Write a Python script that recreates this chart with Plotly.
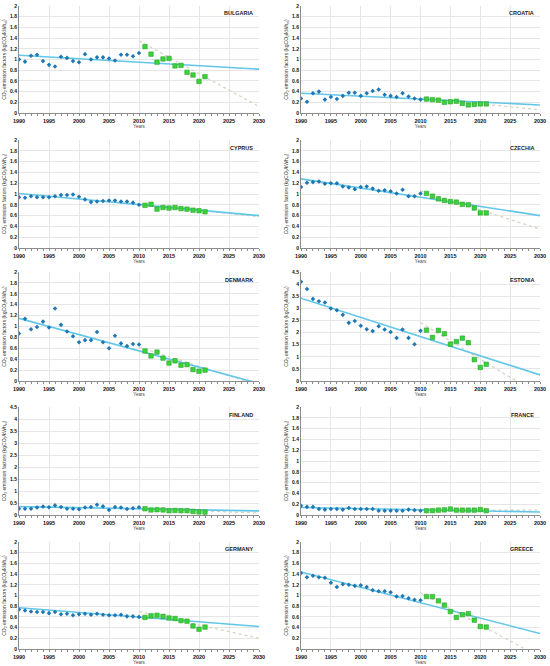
import plotly.graph_objects as go

# years
years_hist = list(range(1990, 2011))
years_new = list(range(2011, 2022))
trend_years = [1990, 2030]
gray_years = [2010, 2030]

countries = ["BULGARIA", "CROATIA", "CYPRUS", "CZECHIA", "DENMARK",
             "ESTONIA", "FINLAND", "FRANCE", "GERMANY", "GREECE"]

# emission factors 1990-2010 (blue)
bulgaria_hist = [1.00, 0.96, 1.07, 1.09, 0.97, 0.90, 0.87, 1.05, 1.03, 0.97, 0.95,
                 1.10, 1.00, 1.04, 1.04, 1.02, 0.98, 1.09, 1.09, 1.06, 1.12]
croatia_hist = [0.27, 0.21, 0.37, 0.40, 0.25, 0.30, 0.26, 0.32, 0.38, 0.38, 0.32,
                0.37, 0.41, 0.44, 0.34, 0.32, 0.30, 0.37, 0.31, 0.27, 0.25]
cyprus_hist = [0.94, 0.93, 0.96, 0.94, 0.94, 0.94, 0.96, 0.98, 0.98, 0.99, 0.95,
               0.90, 0.85, 0.86, 0.87, 0.88, 0.88, 0.86, 0.86, 0.84, 0.80]
czechia_hist = [1.13, 1.21, 1.22, 1.23, 1.19, 1.20, 1.20, 1.14, 1.12, 1.09, 1.13,
                1.14, 1.10, 1.06, 1.07, 1.05, 1.01, 1.08, 0.96, 0.96, 1.01]
denmark_hist = [0.87, 1.14, 0.95, 0.99, 1.09, 0.98, 1.33, 1.03, 0.91, 0.82, 0.71,
                0.75, 0.75, 0.90, 0.71, 0.60, 0.83, 0.69, 0.64, 0.68, 0.67]
estonia_hist = [4.10, 3.80, 3.39, 3.29, 3.24, 2.99, 2.92, 2.73, 2.40, 2.48, 2.28,
                2.14, 2.06, 2.26, 2.13, 2.02, 1.78, 2.13, 1.78, 1.52, 2.07]
finland_hist = [0.26, 0.26, 0.26, 0.31, 0.35, 0.32, 0.40, 0.33, 0.26, 0.26, 0.24,
                0.31, 0.33, 0.43, 0.36, 0.21, 0.33, 0.31, 0.25, 0.28, 0.32]
france_hist = [0.17, 0.15, 0.15, 0.11, 0.10, 0.11, 0.11, 0.10, 0.13, 0.11, 0.11,
               0.11, 0.11, 0.08, 0.08, 0.08, 0.08, 0.08, 0.10, 0.09, 0.08]
germany_hist = [0.74, 0.72, 0.70, 0.69, 0.69, 0.67, 0.69, 0.65, 0.66, 0.63, 0.65,
                0.66, 0.64, 0.66, 0.64, 0.63, 0.63, 0.64, 0.61, 0.61, 0.60]
greece_hist = [1.42, 1.34, 1.37, 1.34, 1.33, 1.24, 1.16, 1.21, 1.20, 1.18, 1.19,
               1.16, 1.10, 1.08, 1.08, 1.06, 0.98, 0.99, 0.95, 0.92, 0.91]

# emission factors 2011-2021 (green)
bulgaria_new = [1.24, 1.10, 0.95, 1.01, 1.02, 0.88, 0.89, 0.76, 0.71, 0.59, 0.68]
croatia_new = [0.26, 0.25, 0.24, 0.20, 0.21, 0.22, 0.18, 0.15, 0.16, 0.17, 0.17]
cyprus_new = [0.79, 0.81, 0.72, 0.75, 0.74, 0.75, 0.73, 0.72, 0.70, 0.69, 0.67]
czechia_new = [1.01, 0.96, 0.91, 0.88, 0.86, 0.85, 0.81, 0.80, 0.74, 0.65, 0.65]
denmark_new = [0.55, 0.46, 0.53, 0.42, 0.33, 0.37, 0.29, 0.30, 0.21, 0.18, 0.20]
estonia_new = [2.10, 1.80, 2.09, 1.95, 1.52, 1.63, 1.77, 1.58, 0.88, 0.56, 0.69]
finland_new = [0.26, 0.21, 0.22, 0.21, 0.18, 0.19, 0.18, 0.18, 0.15, 0.13, 0.12]
france_new = [0.08, 0.08, 0.09, 0.095, 0.11, 0.09, 0.09, 0.09, 0.09, 0.10, 0.08]
germany_new = [0.59, 0.62, 0.63, 0.61, 0.58, 0.57, 0.53, 0.52, 0.43, 0.37, 0.41]
greece_new = [0.98, 0.98, 0.90, 0.82, 0.70, 0.59, 0.64, 0.66, 0.54, 0.42, 0.41]

# long-term trend (light blue), values at 1990 and 2030
bulgaria_trend = [1.08, 0.82]
croatia_trend = [0.37, 0.15]
cyprus_trend = [1.01, 0.60]
czechia_trend = [1.28, 0.60]
denmark_trend = [1.15, -0.045]
estonia_trend = [3.42, 0.25]
finland_trend = [0.35, 0.17]
france_trend = [0.14, 0.055]
germany_trend = [0.77, 0.42]
greece_trend = [1.44, 0.29]

# recent trend (dotted grey), values at 2010 and 2030
bulgaria_gray = [1.35, 0.12]
croatia_gray = [0.28, 0.06]
cyprus_gray = [0.81, 0.58]
czechia_gray = [1.06, 0.35]
denmark_gray = [0.62, -0.08]
estonia_gray = [2.41, -0.60]
finland_gray = [0.27, 0.08]
france_gray = [0.09, 0.09]
germany_gray = [0.70, 0.20]
greece_gray = [1.05, -0.15]

hist = [bulgaria_hist, croatia_hist, cyprus_hist, czechia_hist, denmark_hist,
        estonia_hist, finland_hist, france_hist, germany_hist, greece_hist]
new = [bulgaria_new, croatia_new, cyprus_new, czechia_new, denmark_new,
       estonia_new, finland_new, france_new, germany_new, greece_new]
trend = [bulgaria_trend, croatia_trend, cyprus_trend, czechia_trend, denmark_trend,
         estonia_trend, finland_trend, france_trend, germany_trend, greece_trend]
gray = [bulgaria_gray, croatia_gray, cyprus_gray, czechia_gray, denmark_gray,
        estonia_gray, finland_gray, france_gray, germany_gray, greece_gray]
ymax = [2, 2, 2, 2, 2, 4.5, 4.5, 2, 2, 2]

W, H = 550, 666
col_px = [(19, 259), (301, 540)]
row_px = [(6, 113), (140, 248), (272, 381), (407, 515), (542, 649)]

fig = go.Figure()
layout = {}
font_family = "Liberation Sans, Arial, sans-serif"

for i, name in enumerate(countries):
    r, c = divmod(i, 2)
    n = i + 1
    xa = "x" if n == 1 else f"x{n}"
    ya = "y" if n == 1 else f"y{n}"

    fig.add_trace(go.Scatter(x=gray_years, y=gray[i], mode="lines",
                             line=dict(color="#d2d2c2", width=1.2, dash="dot"),
                             xaxis=xa, yaxis=ya, showlegend=False))
    fig.add_trace(go.Scatter(x=trend_years, y=trend[i], mode="lines",
                             line=dict(color="#62c6e8", width=1.6),
                             xaxis=xa, yaxis=ya, showlegend=False))
    fig.add_trace(go.Scatter(x=years_hist, y=hist[i], mode="markers",
                             marker=dict(symbol="diamond", size=3.5, color="#1f78b4"),
                             xaxis=xa, yaxis=ya, showlegend=False))
    fig.add_trace(go.Scatter(x=years_new, y=new[i], mode="markers",
                             marker=dict(symbol="square", size=4.5, color="#3ad23a",
                                         line=dict(color="#1f9a1f", width=0.5)),
                             xaxis=xa, yaxis=ya, showlegend=False))

    x0, x1 = col_px[c]
    t, b = row_px[r]
    dt = 0.5 if ymax[i] > 2 else 0.2
    layout[f"xaxis{n}"] = dict(
        domain=[x0 / W, x1 / W], anchor=ya, range=[1990, 2030], dtick=5,
        showgrid=True, gridcolor="#e6e6e6", gridwidth=0.6,
        showline=True, linecolor="#8c8c8c", linewidth=1, zeroline=False,
        ticks="outside", ticklen=2, tickcolor="#8c8c8c",
        minor=dict(dtick=1, ticks="outside", ticklen=1.5, tickcolor="#8c8c8c", showgrid=False),
        tickfont=dict(size=5.5, family=font_family, color="#111", weight="bold"),
        title=dict(text="Years", font=dict(size=4.5, family=font_family, color="#444"),
                   standoff=1),
    )
    layout[f"yaxis{n}"] = dict(
        domain=[1 - b / H, 1 - t / H], anchor=xa, range=[0, ymax[i]], dtick=dt,
        showgrid=True, gridcolor="#e6e6e6", gridwidth=0.6,
        showline=True, linecolor="#8c8c8c", linewidth=1, zeroline=False,
        ticks="", tickfont=dict(size=5, family=font_family, color="#111", weight="bold"),
        title=dict(text="CO<sub>2</sub> emission factors (kgCO<sub>2</sub>/kWh<sub>el</sub>)",
                   font=dict(size=5, family=font_family, color="#333"), standoff=3),
    )
    fig.add_annotation(text=f"<b>{name}</b>", xref=f"{xa} domain", yref=f"{ya} domain",
                       x=0.985, y=0.93, xanchor="right", yanchor="middle", showarrow=False,
                       font=dict(size=5.5, family=font_family, color="#222"))

fig.update_layout(
    width=W, height=H,
    margin=dict(l=0, r=0, t=0, b=0),
    paper_bgcolor="white", plot_bgcolor="white",
    **layout,
)
for k in layout:
    fig.layout[k].automargin = False

# drop the default page margin so the figure sits at the window corner
fig.write_html("out.html", config={"displayModeBar": False},
               post_script="document.body.style.margin='0';")
